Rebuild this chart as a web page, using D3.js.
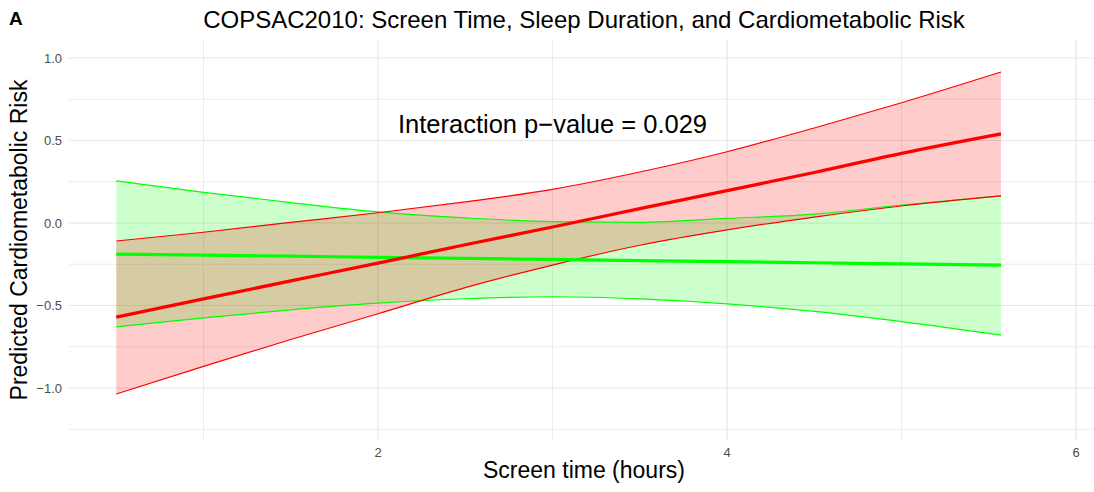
<!DOCTYPE html>
<html>
<head>
<meta charset="utf-8">
<script src="https://cdn.jsdelivr.net/npm/d3@7"></script>
<style>
  html, body { margin: 0; padding: 0; background: #fff; }
  svg { display: block; font-family: "Liberation Sans", Arial, Helvetica, sans-serif; }
</style>
</head>
<body>
<svg id="chart" width="1094" height="492"></svg>
<script>
// ---- data ----
const screenTime = [0.5, 1, 1.5, 2, 2.5, 3, 3.5, 4, 4.5, 5, 5.57];
// short-sleep group (red)
const redFit   = [-0.570, -0.460, -0.351, -0.243, -0.132, -0.024, 0.087, 0.196, 0.306, 0.422, 0.540];
const redUpper = [-0.109, -0.056,  0.004,  0.062,  0.128,  0.204, 0.309, 0.432, 0.576, 0.729, 0.915];
const redLower = [-1.036, -0.869, -0.706, -0.550, -0.392, -0.255, -0.135, -0.042, 0.036, 0.103, 0.164];
// adequate-sleep group (green)
const greenFit   = [-0.188, -0.195, -0.201, -0.208, -0.214, -0.221, -0.228, -0.234, -0.241, -0.248, -0.255];
const greenUpper = [ 0.255,  0.186,  0.124,  0.067,  0.031,  0.008,  0.004,  0.028,  0.054,  0.109,  0.164];
const greenLower = [-0.630, -0.575, -0.526, -0.486, -0.459, -0.447, -0.460, -0.490, -0.536, -0.598, -0.680];

const xMajorTicks = [2, 4, 6];
const xMinorTicks = [1, 3, 5];
const yMajorTicks = [-1.0, -0.5, 0.0, 0.5, 1.0];
const yMinorTicks = [-1.25, -0.75, -0.25, 0.25, 0.75];

const titleText = "COPSAC2010: Screen Time, Sleep Duration, and Cardiometabolic Risk";
const tagText = "A";
const annotText = "Interaction p\u2212value = 0.029";
const annotPos = { x: 3, y: 0.6 };
const xTitle = "Screen time (hours)";
const yTitle = "Predicted Cardiometabolic Risk";

// ---- layout ----
const svg = d3.select("#chart");
const panel = { left: 69, right: 1094, top: 40, bottom: 440 };

const x = d3.scaleLinear().domain([0.2292, 6.103]).range([panel.left, panel.right]);
const y = d3.scaleLinear().domain([-1.315, 1.109]).range([panel.bottom, panel.top]);

// gridlines
const grid = svg.append("g");
grid.selectAll(".ymin").data(yMinorTicks).join("line")
  .attr("x1", panel.left).attr("x2", panel.right)
  .attr("y1", d => y(d)).attr("y2", d => y(d))
  .attr("stroke", "#EBEBEB").attr("stroke-width", 1);
grid.selectAll(".xmin").data(xMinorTicks).join("line")
  .attr("y1", panel.top).attr("y2", panel.bottom)
  .attr("x1", d => x(d)).attr("x2", d => x(d))
  .attr("stroke", "#EBEBEB").attr("stroke-width", 1);
grid.selectAll(".ymaj").data(yMajorTicks).join("line")
  .attr("x1", panel.left).attr("x2", panel.right)
  .attr("y1", d => y(d)).attr("y2", d => y(d))
  .attr("stroke", "#E6E6E6").attr("stroke-width", 1.2);
grid.selectAll(".xmaj").data(xMajorTicks).join("line")
  .attr("y1", panel.top).attr("y2", panel.bottom)
  .attr("x1", d => x(d)).attr("x2", d => x(d))
  .attr("stroke", "#E6E6E6").attr("stroke-width", 1.2);

// series
const idx = d3.range(screenTime.length);
const curve = d3.curveMonotoneX;
function band(upper, lower) {
  return d3.area().curve(curve)
    .x(i => x(screenTime[i])).y0(i => y(lower[i])).y1(i => y(upper[i]))(idx);
}
function line(vals) {
  return d3.line().curve(curve).x(i => x(screenTime[i])).y(i => y(vals[i]))(idx);
}

const series = [
  { fit: greenFit, upper: greenUpper, lower: greenLower, color: "#00FF00" },
  { fit: redFit, upper: redUpper, lower: redLower, color: "#FF0000" }
];

const marks = svg.append("g");
series.forEach(s => {
  marks.append("path").attr("d", band(s.upper, s.lower))
    .attr("fill", s.color).attr("fill-opacity", 0.2);
});
series.forEach(s => {
  marks.append("path").attr("d", line(s.upper)).attr("fill", "none")
    .attr("stroke", s.color).attr("stroke-width", 1.2);
  marks.append("path").attr("d", line(s.lower)).attr("fill", "none")
    .attr("stroke", s.color).attr("stroke-width", 1.2);
});
series.forEach(s => {
  marks.append("path").attr("d", line(s.fit)).attr("fill", "none")
    .attr("stroke", s.color).attr("stroke-width", 3.2);
});

// axes tick labels
const yFmt = d3.format(".1f");
svg.append("g").selectAll("text").data(yMajorTicks).join("text")
  .attr("x", panel.left - 7).attr("y", d => y(d)).attr("dy", "0.35em")
  .attr("text-anchor", "end").attr("font-size", 13).attr("fill", "#4D4D4D")
  .text(d => yFmt(d));
svg.append("g").selectAll("text").data(xMajorTicks).join("text")
  .attr("x", d => x(d)).attr("y", panel.bottom + 17)
  .attr("text-anchor", "middle").attr("font-size", 13).attr("fill", "#4D4D4D")
  .text(d => d3.format("d")(d));

// titles
svg.append("text").attr("x", 584).attr("y", 28)
  .attr("text-anchor", "middle").attr("font-size", 24).attr("fill", "#000")
  .text(titleText);
svg.append("text").attr("x", 9).attr("y", 25)
  .attr("font-size", 19).attr("font-weight", "bold").attr("fill", "#000")
  .text(tagText);
svg.append("text").attr("x", x(annotPos.x)).attr("y", y(annotPos.y)).attr("dy", "0.35em")
  .attr("text-anchor", "middle").attr("font-size", 25.5).attr("fill", "#000")
  .text(annotText);
svg.append("text").attr("x", 584).attr("y", 478)
  .attr("text-anchor", "middle").attr("font-size", 23).attr("fill", "#000")
  .text(xTitle);
svg.append("text")
  .attr("transform", `translate(27, ${(panel.top + panel.bottom) / 2}) rotate(-90)`)
  .attr("text-anchor", "middle").attr("font-size", 23).attr("fill", "#000")
  .text(yTitle);
</script>
</body>
</html>
